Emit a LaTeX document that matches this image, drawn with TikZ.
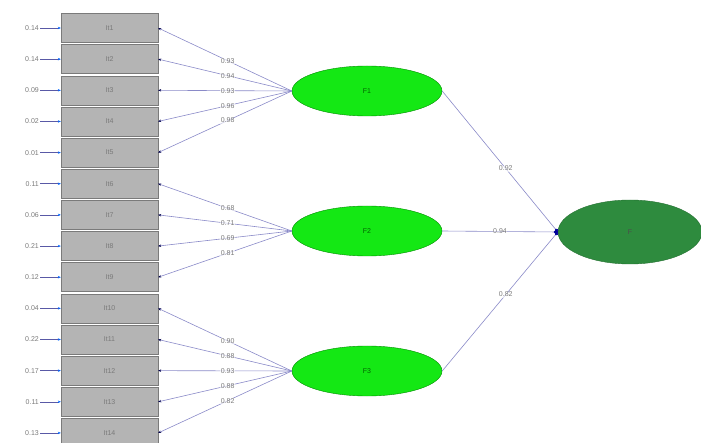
\documentclass[tikz,border=0pt]{standalone}
\usepackage{fontspec}
\setmainfont{Liberation Sans}
\usetikzlibrary{shapes.geometric,arrows.meta}
\definecolor{boxgray}{HTML}{B4B4B4}
\definecolor{boxedge}{HTML}{7A7A7A}
\definecolor{linec}{HTML}{8A8AC8}
\definecolor{lbl}{HTML}{7A7A7A}
\definecolor{latg}{HTML}{14E814}
\definecolor{darkg}{HTML}{2E8B3E}
\tikzset{
  itembox/.style={draw=boxedge,fill=boxgray,minimum width=97pt,minimum height=29pt,inner sep=0pt,font=\fontsize{7}{8}\selectfont,text=lbl},
  errlbl/.style={font=\fontsize{7}{8}\selectfont,text=lbl,inner sep=1pt,anchor=east},
  latent/.style={ellipse,draw=green!55!black,fill=latg,minimum width=150pt,minimum height=50pt,inner sep=0pt,font=\fontsize{7}{8}\selectfont,text=green!40!black},
  toplat/.style={ellipse,draw=darkg!80!black,fill=darkg,minimum width=144pt,minimum height=64pt,inner sep=0pt,font=\fontsize{7}{8}\selectfont,text=black!70},
  conn/.style={draw=linec,line width=0.6pt},
  ldl/.style={font=\fontsize{7}{8}\selectfont,text=lbl,inner sep=0.5pt,fill=white,fill opacity=0.6,text opacity=1},
  smarr/.style={-{Stealth[length=3pt,width=2.5pt,color=black!70!blue]}},
  errarr/.style={-{Stealth[length=3pt,width=2.5pt,color=blue!60!cyan]}},
  dotarr/.style={-{Circle[length=4pt,color=blue!60!black]}}
}
\begin{document}
\begin{tikzpicture}[x=1pt,y=-1pt]
\useasboundingbox (0,0) rectangle (701,443);
\clip (0,0) rectangle (701,443);
% items
\foreach \i/\e in {1/0.14,2/0.14,3/0.09,4/0.02,5/0.01,6/0.11,7/0.06,8/0.21,9/0.12,10/0.04,11/0.22,12/0.17,13/0.11,14/0.13}{
  \pgfmathsetmacro{\yy}{28+31.15*(\i-1)}
  \node[itembox] (it\i) at (109.5,\yy) {It\i};
  \node[errlbl] (e\i) at (40,\yy) {\e};
  \draw[conn,draw=gray!70!blue,errarr] (e\i.east) -- (it\i.west);
}
% latent
\node[latent] (F1) at (367,91) {F1};
\node[latent] (F2) at (367,231) {F2};
\node[latent] (F3) at (367,371) {F3};
\node[toplat] (F) at (630,232) {F};
% loadings
\foreach \i/\l in {1/0.93,2/0.94,3/0.93,4/0.96,5/0.98}{
  \draw[conn,smarr] (F1.west) -- node[ldl,pos=0.48]{\l} (it\i.east);
}
\foreach \i/\l in {6/0.68,7/0.71,8/0.69,9/0.81}{
  \draw[conn,smarr] (F2.west) -- node[ldl,pos=0.48]{\l} (it\i.east);
}
\foreach \i/\l in {10/0.90,11/0.88,12/0.93,13/0.88,14/0.82}{
  \draw[conn,smarr] (F3.west) -- node[ldl,pos=0.48]{\l} (it\i.east);
}
% second order
\draw[conn,dotarr] (F1.east) -- node[ldl,pos=0.55]{0.92} (F.west);
\draw[conn,dotarr] (F2.east) -- node[ldl,pos=0.5]{0.94} (F.west);
\draw[conn,dotarr] (F3.east) -- node[ldl,pos=0.55]{0.82} (F.west);
\end{tikzpicture}
\end{document}
